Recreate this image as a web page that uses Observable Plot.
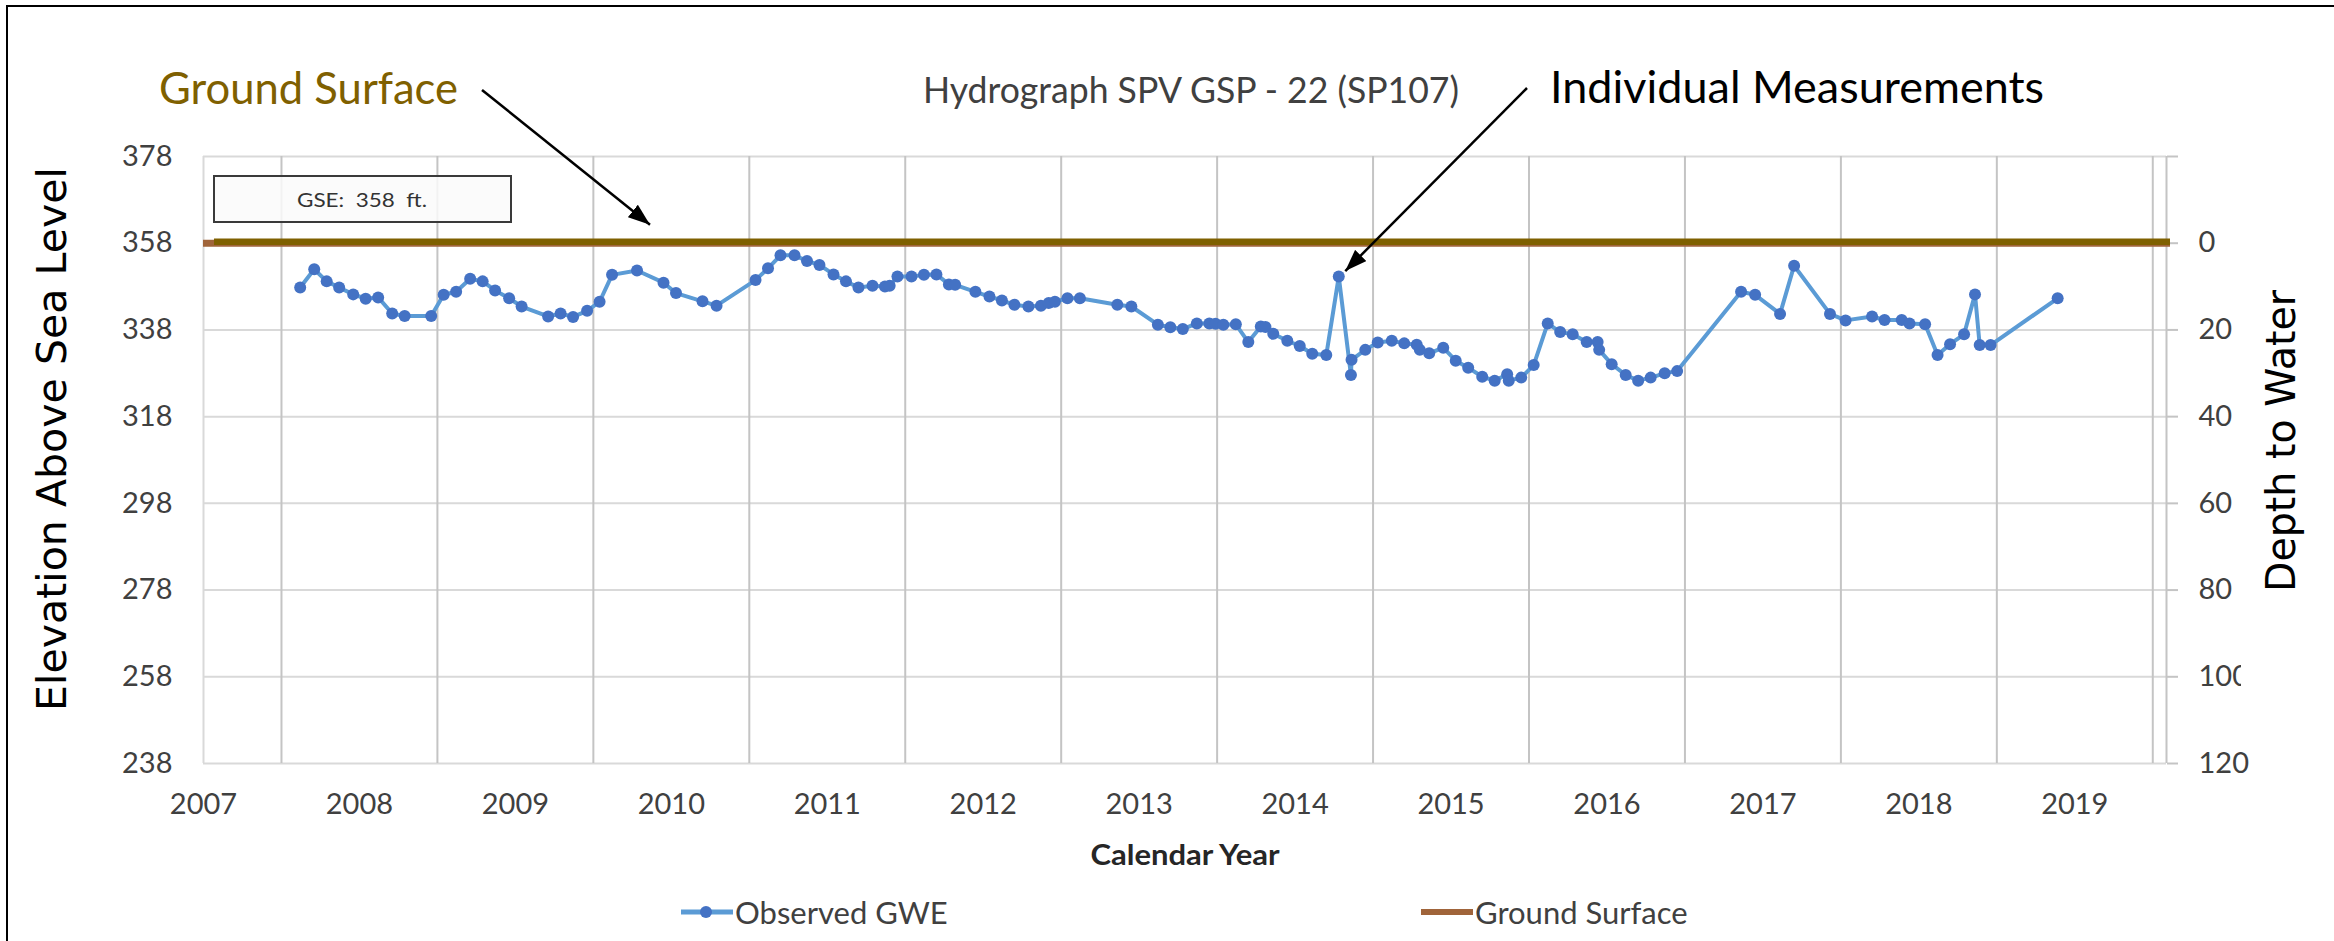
<!DOCTYPE html>
<html>
<head>
<meta charset="utf-8">
<script src="https://cdn.jsdelivr.net/npm/d3@7"></script>
<script src="https://cdn.jsdelivr.net/npm/@observablehq/plot@0.6"></script>
<style>
  html, body { margin: 0; padding: 0; background: #fff; }
  #wrap { position: relative; width: 2334px; height: 941px; overflow: hidden; font-family: Lato, "Open Sans", sans-serif; }
  #frame { position: absolute; left: 6px; top: 5px; width: 2400px; height: 1000px; border-left: 2px solid #000; border-top: 2px solid #000; pointer-events: none; }
  #chart svg { display: block; overflow: visible; }
  #legend { position: relative; width: 2334px; height: 61px; color: #404040; font-size: 31px; font-family: Lato, sans-serif; }
  .li { position: absolute; top: 13px; display: flex; align-items: center; height: 38px; }
  .li svg { display: block; }
</style>
</head>
<body>
<div id="wrap">
  <div id="chart"></div>
  <div id="legend">
    <div class="li" style="left:681px"><svg width="52" height="20"><line x1="0" y1="10" x2="52" y2="10" stroke="#5b9bd5" stroke-width="5"/><circle cx="25" cy="10" r="6" fill="#4472c4"/></svg><span style="margin-left:2px">Observed GWE</span></div>
    <div class="li" style="left:1421px"><svg width="52" height="20"><line x1="0" y1="10" x2="52" y2="10" stroke="#a0643a" stroke-width="6"/></svg><span style="margin-left:2px">Ground Surface</span></div>
  </div>
  <div id="frame"></div>
</div>
<script>
// ---- data ----
const gse = 358; // ground surface elevation, ft
const yearLabels = [2007, 2008, 2009, 2010, 2011, 2012, 2013, 2014, 2015, 2016, 2017, 2018, 2019];
const elevTicks = [238, 258, 278, 298, 318, 338, 358, 378];
const depthTicks = [0, 20, 40, 60, 80, 100, 120];
const years = [
  2008.12, 2008.21, 2008.29, 2008.37, 2008.46, 2008.54, 2008.62, 2008.71, 2008.79, 2008.96,
  2009.04, 2009.12, 2009.21, 2009.29, 2009.37, 2009.46, 2009.54, 2009.71, 2009.79, 2009.87, 2009.96,
  2010.04, 2010.12, 2010.28, 2010.45, 2010.53, 2010.70, 2010.79,
  2011.04, 2011.12, 2011.20, 2011.29, 2011.37, 2011.45, 2011.54, 2011.62, 2011.70, 2011.79, 2011.87, 2011.90, 2011.95,
  2012.04, 2012.12, 2012.20, 2012.28, 2012.32, 2012.45, 2012.54, 2012.62, 2012.70, 2012.79, 2012.87, 2012.92, 2012.96,
  2013.04, 2013.12, 2013.36, 2013.45, 2013.62, 2013.70, 2013.78, 2013.87, 2013.95, 2013.99,
  2014.04, 2014.12, 2014.20, 2014.28, 2014.31, 2014.36, 2014.45, 2014.53, 2014.61, 2014.70, 2014.78, 2014.858, 2014.862, 2014.95,
  2015.03, 2015.12, 2015.20, 2015.28, 2015.30, 2015.36, 2015.45, 2015.53, 2015.61, 2015.70, 2015.78, 2015.86, 2015.87, 2015.95,
  2016.03, 2016.12, 2016.20, 2016.28, 2016.37, 2016.44, 2016.45, 2016.53, 2016.62, 2016.70, 2016.78, 2016.87, 2016.95,
  2017.36, 2017.45, 2017.61, 2017.70, 2017.93,
  2018.03, 2018.20, 2018.28, 2018.39, 2018.44, 2018.54, 2018.62, 2018.70, 2018.79, 2018.86, 2018.89, 2018.96,
  2019.39
];
const gwe = [
  347.8, 352.0, 349.2, 347.8, 346.2, 345.2, 345.5, 341.8, 341.2, 341.2,
  346.1, 346.8, 349.8, 349.2, 347.1, 345.3, 343.4, 341.1, 341.8, 341.0, 342.4,
  344.5, 350.7, 351.7, 348.9, 346.5, 344.6, 343.6,
  349.5, 352.2, 355.2, 355.2, 353.9, 353.0, 350.8, 349.2, 347.8, 348.2, 348.0, 348.2, 350.3,
  350.3, 350.7, 350.8, 348.5, 348.4, 346.8, 345.7, 344.8, 343.8, 343.4, 343.6, 344.2, 344.5,
  345.3, 345.3, 343.8, 343.4, 339.2, 338.6, 338.2, 339.5, 339.5, 339.4,
  339.2, 339.3, 335.2, 338.8, 338.7, 337.1, 335.5, 334.3, 332.5, 332.2, 350.3, 327.6, 331.1, 333.4,
  335.1, 335.5, 334.9, 334.6, 333.4, 332.6, 333.9, 330.9, 329.3, 327.2, 326.3, 327.8, 326.3, 327.0,
  329.9, 339.5, 337.5, 337.0, 335.2, 335.2, 333.4, 330.1, 327.6, 326.3, 327.0, 328.0, 328.5,
  346.8, 346.1, 341.7, 352.8, 341.7,
  340.2, 341.1, 340.3, 340.3, 339.5, 339.3, 332.2, 334.7, 337.0, 346.2, 334.5, 334.5,
  345.3
];

const records = years.map((y, i) => ({year: y, gwe: gwe[i]}));
const labelTicks = yearLabels.map(y => y + 0.5);          // labels centred in each year
const gridYears = yearLabels.map(y => y + 1);              // Jan 1 boundaries
const xDomain = [yearLabels[0] + 0.5, yearLabels[yearLabels.length - 1] + 1.088];

const chart = Plot.plot({
  width: 2334,
  height: 880,
  marginLeft: 203,
  marginRight: 168,
  marginTop: 156,
  marginBottom: 117,
  x: {type: "linear", domain: xDomain},
  y: {domain: [elevTicks[0], elevTicks[elevTicks.length - 1]]},
  style: {fontFamily: "Lato, 'Open Sans', sans-serif", fontSize: "29px", color: "#404040", background: "transparent", overflow: "visible"},
  marks: [
    Plot.ruleY(elevTicks, {stroke: "#d9d9d9", strokeWidth: 2}),
    Plot.ruleX(gridYears, {stroke: "#c4c4c4", strokeWidth: 2}),
    Plot.ruleX([xDomain[0]], {stroke: "#d9d9d9", strokeWidth: 2}),
    Plot.ruleX([xDomain[1]], {stroke: "#c4c4c4", strokeWidth: 2}),
    Plot.axisX(labelTicks, {anchor: "bottom", tickSize: 0, tickPadding: 30, tickFormat: d => String(Math.round(d - 0.5)), label: null, fontSize: 29, fill: "#404040"}),
    Plot.axisY(elevTicks, {anchor: "left", tickSize: 0, tickPadding: 31, label: null, fontSize: 29, fill: "#404040"}),
    Plot.axisY(elevTicks, {anchor: "right", tickSize: 11, tickPadding: 21, stroke: "#c4c4c4", strokeWidth: 2, fill: "#404040", fontSize: 29, label: null,
      tickFormat: d => depthTicks.includes(gse - d) ? String(gse - d) : ""}),
    // Ground Surface series
    Plot.ruleY([gse], {stroke: "#a0643a", strokeWidth: 7, insetRight: -4}),
    // hand-drawn ground surface line on top
    Plot.ruleY([gse], {stroke: "#7f6000", strokeWidth: 6.5, dy: -1.5, insetLeft: 11, insetRight: -4}),
    // Observed GWE
    Plot.line(records, {x: "year", y: "gwe", stroke: "#5b9bd5", strokeWidth: 4}),
    Plot.dot(records, {x: "year", y: "gwe", r: 6, fill: "#4472c4", stroke: "none"})
  ]
});
document.getElementById("chart").appendChild(chart);

// ---- annotations ----
const svg = d3.select(chart);
const xs = chart.scale("x"), ys = chart.scale("y");

const defs = svg.append("defs");
defs.append("marker")
  .attr("id", "ah").attr("viewBox", "0 0 10 10").attr("refX", 10).attr("refY", 5)
  .attr("markerWidth", 22).attr("markerHeight", 16).attr("markerUnits", "userSpaceOnUse")
  .attr("preserveAspectRatio", "none").attr("orient", "auto")
  .append("path").attr("d", "M0,0 L10,5 L0,10 z").attr("fill", "#000");

const ann = svg.append("g").attr("text-anchor", "start");

// title
ann.append("text").attr("x", 1191).attr("y", 103).attr("text-anchor", "middle")
  .attr("font-family", "Lato, sans-serif").attr("font-size", 37).attr("fill", "#404040")
  .attr("textLength", 536).attr("lengthAdjust", "spacingAndGlyphs")
  .text("Hydrograph SPV GSP - 22 (SP107)");

// Ground Surface callout
ann.append("text").attr("x", 159).attr("y", 104).attr("text-anchor", "start")
  .attr("font-family", "Lato, sans-serif").attr("font-size", 44).attr("fill", "#7f6000")
  .attr("textLength", 299).attr("lengthAdjust", "spacingAndGlyphs")
  .text("Ground Surface");
ann.append("path")
  .attr("d", `M482,90 L650,${ys.apply(gse) - 18}`)
  .attr("stroke", "#000").attr("stroke-width", 2.5).attr("fill", "none").attr("marker-end", "url(#ah)");

// Individual Measurements callout
ann.append("text").attr("x", 1550).attr("y", 103).attr("text-anchor", "start")
  .attr("font-family", "Lato, sans-serif").attr("font-size", 45).attr("fill", "#000")
  .attr("textLength", 494).attr("lengthAdjust", "spacingAndGlyphs")
  .text("Individual Measurements");
const spike = records.filter(d => d.year > 2014.5 && d.year < 2015).reduce((a, b) => b.gwe > a.gwe ? b : a);
ann.append("path")
  .attr("d", `M1527,88 L${xs.apply(spike.year) + 7},${ys.apply(spike.gwe) - 5}`)
  .attr("stroke", "#000").attr("stroke-width", 2.5).attr("fill", "none").attr("marker-end", "url(#ah)");

// GSE box
ann.append("rect").attr("x", 214).attr("y", 176).attr("width", 297).attr("height", 46)
  .attr("fill", "#fafafa").attr("fill-opacity", 0.85).attr("stroke", "#3a3a3a").attr("stroke-width", 2);
ann.append("text").attr("x", 362).attr("y", 207).attr("text-anchor", "middle")
  .attr("font-family", "Lato, sans-serif").attr("font-size", 20).attr("fill", "#333")
  .style("white-space", "pre").attr("textLength", 130).attr("lengthAdjust", "spacingAndGlyphs")
  .text(`GSE:  ${gse}  ft.`);

// x axis title
ann.append("text").attr("x", 1185).attr("y", 865).attr("text-anchor", "middle")
  .attr("font-family", "Lato, sans-serif").attr("font-weight", "bold").attr("font-size", 29).attr("fill", "#262626")
  .attr("textLength", 189).attr("lengthAdjust", "spacingAndGlyphs")
  .text("Calendar Year");

// left axis title
ann.append("text").attr("transform", "translate(66,439) rotate(-90)").attr("text-anchor", "middle")
  .attr("font-family", "'DejaVu Sans', sans-serif").attr("font-size", 41).attr("fill", "#000")
  .attr("textLength", 544).attr("lengthAdjust", "spacingAndGlyphs")
  .text("Elevation Above Sea Level");

// right axis title (its box hides part of the "100" label, as in the original)
ann.append("rect").attr("x", 2241).attr("y", 190).attr("width", 90).attr("height", 520).attr("fill", "#fff");
ann.append("text").attr("transform", "translate(2295,441) rotate(-90)").attr("text-anchor", "middle")
  .attr("font-family", "'DejaVu Sans', sans-serif").attr("font-size", 41).attr("fill", "#000")
  .attr("textLength", 302).attr("lengthAdjust", "spacingAndGlyphs")
  .text("Depth to Water");
</script>
</body>
</html>
